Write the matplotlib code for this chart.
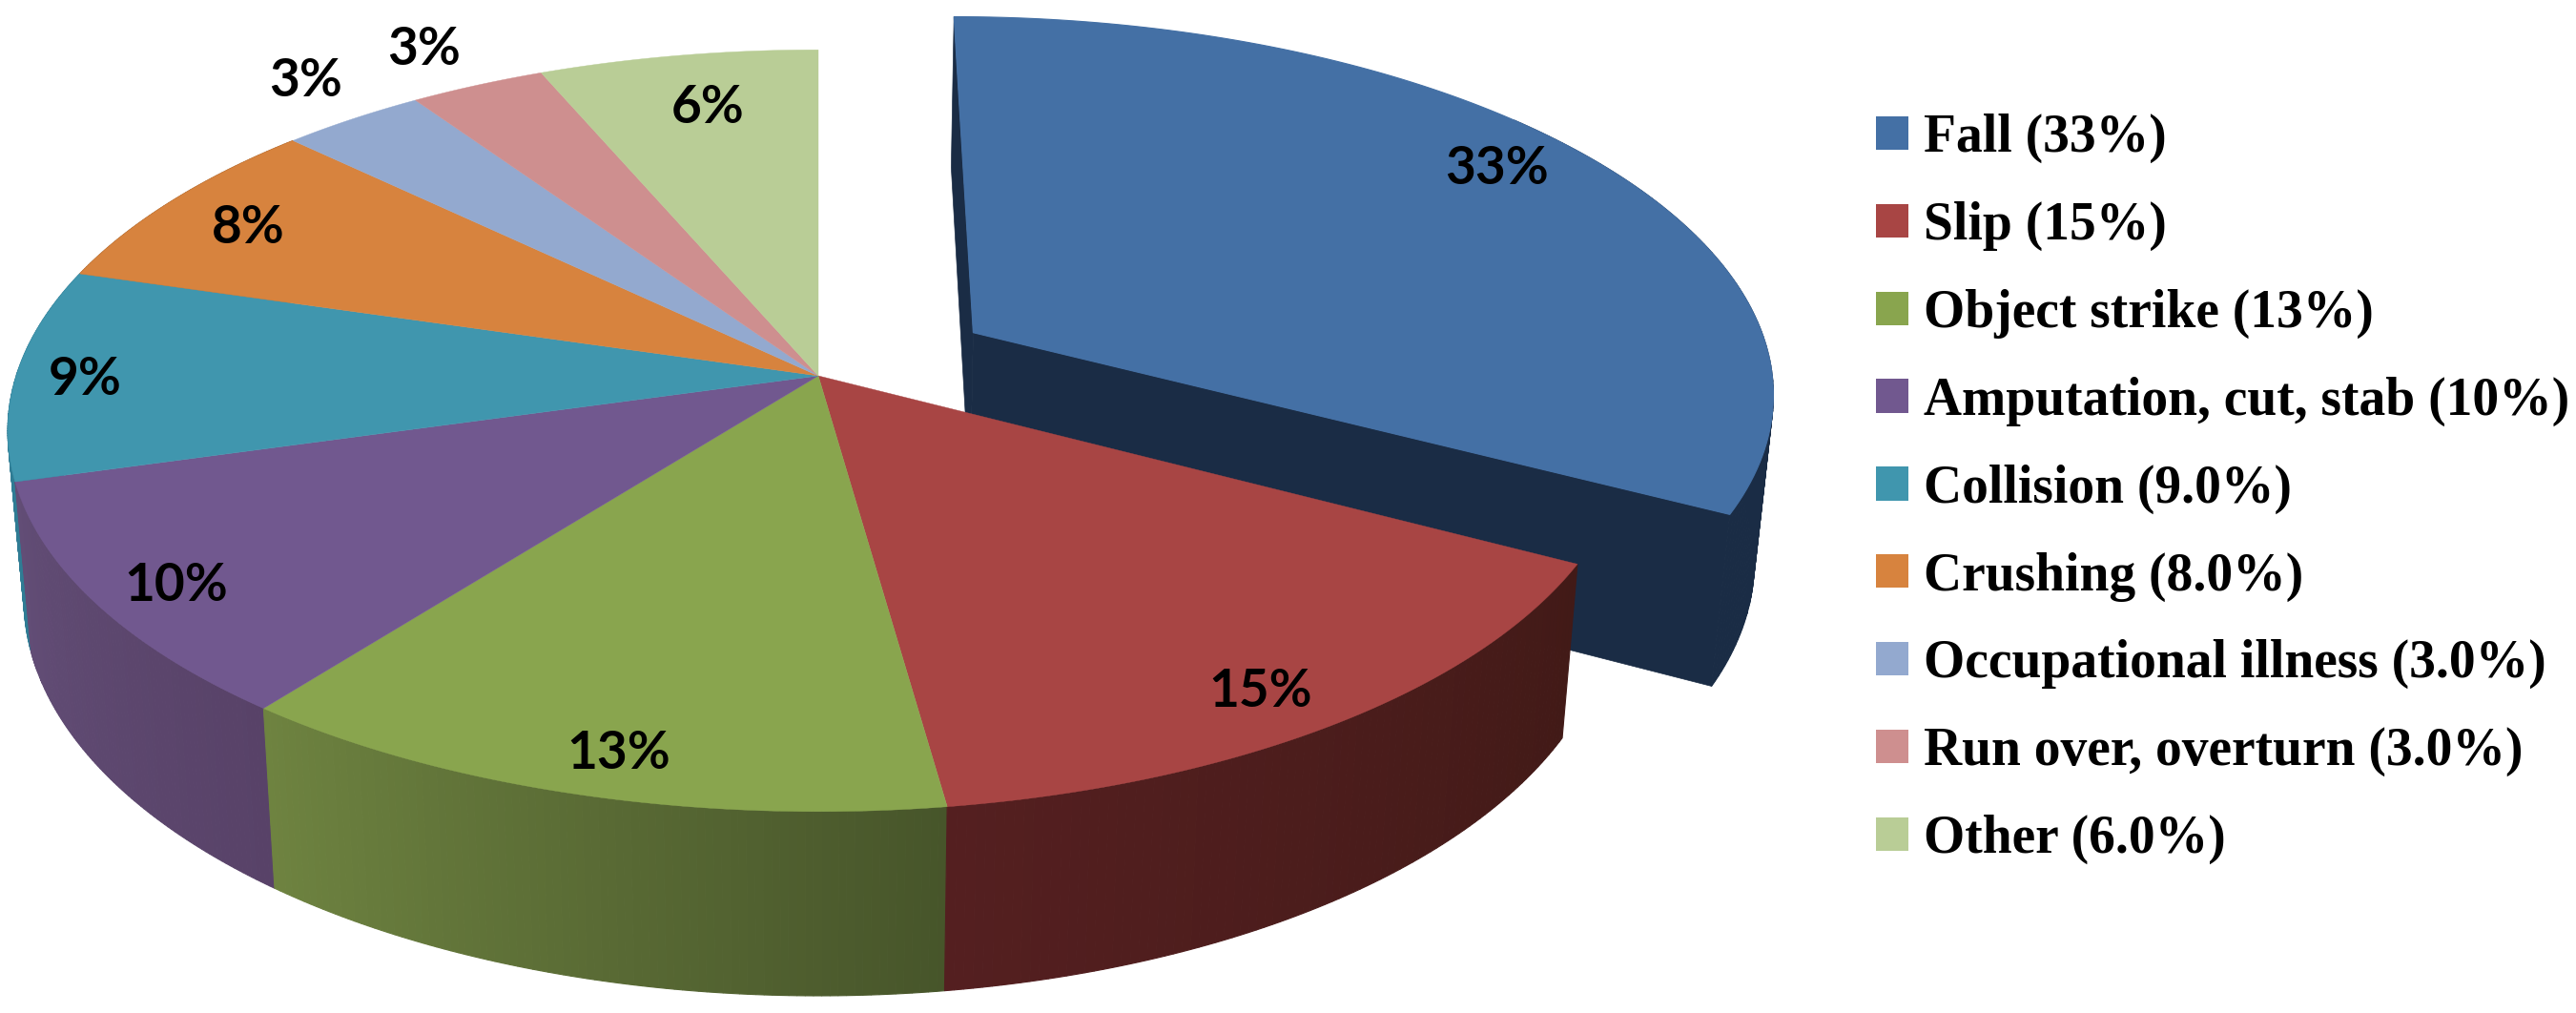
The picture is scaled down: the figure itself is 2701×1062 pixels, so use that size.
import numpy as np
import matplotlib
matplotlib.use("Agg")
import matplotlib.pyplot as plt
from matplotlib.patches import Patch
from matplotlib.colors import to_rgb

# causes of accidents, slice sizes (labels are rounded)
categories = ["Fall (33%)", "Slip (15%)", "Object strike (13%)", "Amputation, cut, stab (10%)",
              "Collision (9.0%)", "Crushing (8.0%)", "Occupational illness (3.0%)",
              "Run over, overturn (3.0%)", "Other (6.0%)"]
shares = [32.8, 15.0, 12.7, 10.1, 9.0, 7.6, 3.3, 3.1, 6.4]
pct_labels = ["33%", "15%", "13%", "10%", "9%", "8%", "3%", "3%", "6%"]

top_colors = ["#4470a5", "#a84544", "#89a54e", "#71588f", "#4096ae", "#d7833e", "#93a9cf", "#ce8f8f", "#b9cd96"]
side_left = ["#1a2c45", "#541f20", "#6e8340", "#624d76", "#2f7c94", "#a8642c", "#6f81a0", "#9c6c6c", "#8c9c70"]
side_right = ["#1a2c45", "#421a17", "#47552a", "#584268", "#2f7c94", "#a8642c", "#6f81a0", "#9c6c6c", "#8c9c70"]

# where the percent labels sit, in image pixels
label_xy = [(1570, 177), (1322, 725), (649, 790), (185, 614), (89, 398),
            (260, 239), (321, 85), (445, 52), (742, 113)]

# perspective of the pie disc
CX, CY = 858, 394
A, B, K = 841, 391, 0.144
EXPLODE = 0.229


def project(u, v):
    w = 1 + K * v
    return CX + A * u / w, CY - B * v / w


def drop(x, y):
    # same point on the lower face of the pie
    return CX + 0.98 * (x - CX), 1.0422 * y + 157.3


def arc(a0, a1, off=(0, 0), n=120):
    t = np.radians(np.linspace(a0, a1, n))
    return project(np.sin(t) + off[0], np.cos(t) + off[1])


def draw_side(a0, a1, c_right, c_left, off=(0, 0)):
    xs, ys = arc(a0, a1, off, n=90)
    bx, by = drop(xs, ys)
    c0, c1 = np.array(to_rgb(c_right)), np.array(to_rgb(c_left))
    for j in range(len(xs) - 1):
        col = c0 + (c1 - c0) * j / (len(xs) - 2)
        ax.fill([xs[j], xs[j + 1], bx[j + 1], bx[j]], [ys[j], ys[j + 1], by[j + 1], by[j]], color=col, lw=0.8)


fig = plt.figure(figsize=(27.01, 10.62), dpi=100)
ax = fig.add_axes([0, 0, 1, 1])
ax.set_xlim(0, 2701)
ax.set_ylim(1062, 0)
ax.axis("off")

edges = np.concatenate([[0], np.cumsum(shares)]) * 3.6

# Fall slice goes first, everything else is painted over it
a0, a1 = edges[0], edges[1]
mid = np.radians((a0 + a1) / 2)
off = (EXPLODE * np.sin(mid), EXPLODE * np.cos(mid))
tipx, tipy = project(off[0], off[1])
xs, ys = arc(a0, a1, off)
draw_side(50, a1, side_left[0], side_left[0], off)
bx, by = drop(xs, ys)
btipx, btipy = drop(tipx, tipy)
for i_end in [0, -1]:
    ax.fill([tipx, xs[i_end], bx[i_end], btipx], [tipy, ys[i_end], by[i_end], btipy], color=side_left[0], lw=0.5)
ax.fill(np.r_[tipx, xs], np.r_[tipy, ys], facecolor=top_colors[0], edgecolor=top_colors[0], lw=0.8)
ax.text(label_xy[0][0], label_xy[0][1], pct_labels[0], ha="center", va="center",
        fontsize=39.5, fontweight="bold", family="Lato", zorder=5)

# sides of the rest, back ones first
for i in [5, 4, 3, 2, 1]:
    draw_side(edges[i], edges[i + 1], side_right[i], side_left[i])

# top faces
for i in range(1, len(shares)):
    xs, ys = arc(edges[i], edges[i + 1])
    ax.fill(np.r_[CX, xs], np.r_[CY, ys], color=top_colors[i], lw=0.3)
    ax.text(label_xy[i][0], label_xy[i][1], pct_labels[i], ha="center", va="center",
            fontsize=39.5, fontweight="bold", family="Lato", zorder=5)

handles = [Patch(facecolor=c, edgecolor="none", label=n) for c, n in zip(top_colors, categories)]
leg = ax.legend(handles=handles, loc="upper left", bbox_to_anchor=(1967, 119), bbox_transform=ax.transData,
                frameon=False, borderpad=0, borderaxespad=0, handlelength=0.61, handleheight=0.6,
                handletextpad=0.29, labelspacing=0.714,
                prop={"family": "Liberation Serif", "weight": "bold", "size": 40})

fig.savefig("out.png", dpi=100, facecolor="white")
